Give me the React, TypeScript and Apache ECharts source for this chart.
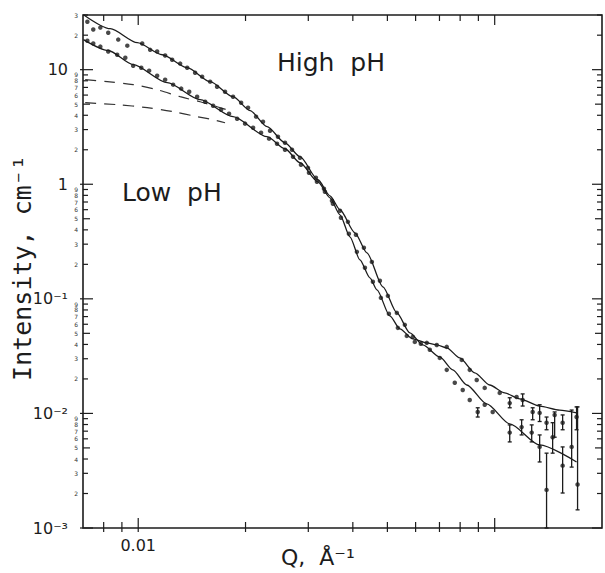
import React, { useEffect, useRef } from 'react';
import * as echarts from 'echarts';

const Q_MIN = 0.007;
const Q_MAX = 0.2;
const I_MIN = 0.001;
const I_MAX = 30;
const INK = '#1c1c1c';
const FONT = '"DejaVu Sans", sans-serif';

// Model fits (solid lines)
const highFitQ = [0.00702, 0.00835, 0.00994, 0.01168, 0.01372, 0.01591, 0.01845, 0.02059, 0.02298, 0.02581, 0.02843, 0.03193, 0.03451, 0.03681, 0.04054, 0.04381, 0.04857, 0.05316, 0.05781, 0.06285, 0.07015, 0.07627, 0.08348, 0.09498, 0.1102, 0.1337, 0.1697];
const highFitI = [30.2, 22.8, 17.2, 13.5, 10.4, 7.86, 5.81, 4.39, 3.18, 2.30, 1.74, 1.095, 0.793, 0.599, 0.377, 0.252, 0.1273, 0.0754, 0.0505, 0.0396, 0.0311, 0.0240, 0.0177, 0.0121, 0.00810, 0.00531, 0.00377];
const lowFitQ = [0.00702, 0.00824, 0.00968, 0.01206, 0.01492, 0.01845, 0.02298, 0.02581, 0.02843, 0.03193, 0.03451, 0.03681, 0.03926, 0.04187, 0.04466, 0.04673, 0.05081, 0.05420, 0.05893, 0.06450, 0.06878, 0.07337, 0.07980, 0.08790, 0.09683, 0.1067, 0.1175, 0.1337, 0.1521, 0.1697];
const lowFitI = [18.3, 14.7, 11.06, 7.70, 5.47, 3.89, 2.60, 2.04, 1.54, 1.051, 0.762, 0.541, 0.348, 0.219, 0.1526, 0.1198, 0.0710, 0.0547, 0.0447, 0.0413, 0.0396, 0.0373, 0.0305, 0.0226, 0.0177, 0.0151, 0.0134, 0.0116, 0.0107, 0.0101];

// Measured points
const highQ = [0.00720, 0.00748, 0.00783, 0.00824, 0.00879, 0.00932, 0.01026, 0.01080, 0.01130, 0.01190, 0.01245, 0.01311, 0.01372, 0.01444, 0.01511, 0.01591, 0.01664, 0.01752, 0.01845, 0.01944, 0.02033, 0.02141, 0.02239, 0.02343, 0.02466, 0.02581, 0.02700, 0.02843, 0.02994, 0.03151, 0.03319, 0.03495, 0.03681, 0.03875, 0.04081, 0.04296, 0.04523, 0.04764, 0.05016, 0.05316, 0.05597, 0.05893, 0.06205, 0.06576, 0.07015, 0.07337, 0.07727, 0.08135, 0.08511, 0.08962, 0.09376, 0.09872, 0.1102, 0.1190, 0.1270, 0.1337, 0.1398, 0.1454, 0.1551, 0.1644, 0.1708];
const highI = [26.2, 22.4, 23.3, 21.0, 18.3, 16.2, 16.9, 14.9, 14.4, 13.3, 12.2, 11.3, 10.4, 9.41, 8.69, 7.86, 7.10, 6.42, 5.81, 5.15, 4.66, 3.89, 3.51, 2.93, 2.60, 2.30, 2.00, 1.70, 1.39, 1.14, 0.913, 0.718, 0.587, 0.470, 0.362, 0.279, 0.210, 0.1437, 0.1062, 0.0754, 0.0593, 0.0466, 0.0405, 0.0359, 0.0305, 0.0240, 0.0185, 0.0160, 0.0131, 0.0103, 0.0119, 0.0103, 0.0068, 0.0076, 0.0068, 0.0051, 0.00215, 0.0062, 0.0035, 0.0051, 0.0024];
const lowQ = [0.00720, 0.00748, 0.00783, 0.00824, 0.00873, 0.00920, 0.00968, 0.01020, 0.01073, 0.01130, 0.01190, 0.01253, 0.01320, 0.01390, 0.01463, 0.01541, 0.01622, 0.01708, 0.01798, 0.01894, 0.01994, 0.02100, 0.02211, 0.02328, 0.02451, 0.02581, 0.02718, 0.02861, 0.03013, 0.03172, 0.03340, 0.03517, 0.03704, 0.03899, 0.04106, 0.04325, 0.04553, 0.04795, 0.05049, 0.05350, 0.05668, 0.05969, 0.06450, 0.06878, 0.07337, 0.08083, 0.08511, 0.08904, 0.09376, 0.1033, 0.1102, 0.1152, 0.1198, 0.1278, 0.1337, 0.1398, 0.1473, 0.1551, 0.1697];
const lowI = [17.9, 16.9, 15.9, 14.4, 13.5, 12.7, 10.8, 10.4, 9.80, 8.86, 8.18, 7.40, 6.83, 6.42, 5.81, 5.25, 4.85, 4.47, 4.13, 3.73, 3.38, 3.11, 2.82, 2.50, 2.26, 2.00, 1.74, 1.48, 1.26, 1.051, 0.860, 0.676, 0.510, 0.370, 0.257, 0.1865, 0.1408, 0.1020, 0.0740, 0.0558, 0.0475, 0.0421, 0.0413, 0.0396, 0.0381, 0.0293, 0.0240, 0.0196, 0.0167, 0.0151, 0.0123, 0.0139, 0.0131, 0.0103, 0.0101, 0.0083, 0.0097, 0.0083, 0.0093];

// Error bars
const highErrQ = [0.08962, 0.1102, 0.1190, 0.1270, 0.1337, 0.1398, 0.1454, 0.1551, 0.1644, 0.1708];
const highErrLo = [0.0093, 0.00564, 0.00649, 0.00564, 0.00377, 0.001, 0.0045, 0.00202, 0.0034, 0.00144];
const highErrHi = [0.0112, 0.00794, 0.0088, 0.00794, 0.00649, 0.0045, 0.0083, 0.0051, 0.0107, 0.0114];
const lowErrQ = [0.1102, 0.1198, 0.1278, 0.1337, 0.1398, 0.1473, 0.1551, 0.1697];
const lowErrLo = [0.0112, 0.0116, 0.0088, 0.0085, 0.0072, 0.0062, 0.0072, 0.0072];
const lowErrHi = [0.0137, 0.0148, 0.0112, 0.0119, 0.0093, 0.0103, 0.0097, 0.0114];

// Dashed component curves
const dash1Q = [0.00710, 0.00819, 0.00968, 0.01130, 0.01311, 0.01492, 0.01664, 0.01845];
const dash1I = [8.18, 7.86, 7.40, 6.69, 5.81, 5.25, 4.75, 4.30];
const dash2Q = [0.00710, 0.00873, 0.01060, 0.01253, 0.01463, 0.01622, 0.01752];
const dash2I = [5.15, 4.95, 4.66, 4.30, 3.89, 3.66, 3.44];

// Ticks and labels
const yMajorTicks = [0.001, 0.01, 0.1, 1, 10];
const yMinorTicks = [0.002, 0.003, 0.004, 0.005, 0.006, 0.007, 0.008, 0.009, 0.02, 0.03, 0.04, 0.05, 0.06, 0.07, 0.08, 0.09, 0.2, 0.3, 0.4, 0.5, 0.6, 0.7, 0.8, 0.9, 2, 3, 4, 5, 6, 7, 8, 9, 20, 30];
const yLabelValues = [10, 1, 0.1, 0.01, 0.001];
const yLabelTexts = ['10', '1', '10⁻¹', '10⁻²', '10⁻³'];
const xMajorTicks = [0.01, 0.1];
const xMinorTicks = [0.008, 0.009, 0.02, 0.03, 0.04, 0.05, 0.06, 0.07, 0.08, 0.09];
const xLabelValues = [0.01];
const xLabelTexts = ['0.01'];

const zip = (a: number[], b: number[]) => a.map((x, i) => [x, b[i]]);
const near = (a: number, b: number) => Math.abs(a - b) / b < 1e-6;

function leadDigit(v: number) {
  return Math.round(v / Math.pow(10, Math.floor(Math.log10(v) + 1e-9)));
}

function yTickItem(params: any, api: any) {
  const v = api.value(1);
  const major = api.value(2) === 1;
  const cs = params.coordSys;
  const y = api.coord([Q_MIN, v])[1];
  const d = leadDigit(v);
  const len = major ? 10 : d === 5 ? 7 : 5;
  const st = { stroke: INK, lineWidth: 1.2 };
  const children: any[] = [
    { type: 'line', shape: { x1: cs.x - (major ? 3 : 0), y1: y, x2: cs.x + len, y2: y }, style: st },
    { type: 'line', shape: { x1: cs.x + cs.width - len, y1: y, x2: cs.x + cs.width, y2: y }, style: st },
  ];
  if (!major) {
    children.push({
      type: 'text',
      x: cs.x - 5,
      y,
      style: { text: String(d), align: 'right', verticalAlign: 'middle', fontSize: 6, fontFamily: FONT, fill: '#333' },
    });
  }
  return { type: 'group', children };
}

function xTickItem(params: any, api: any) {
  const v = api.value(0);
  const major = api.value(2) === 1;
  const cs = params.coordSys;
  const x = api.coord([v, I_MIN])[0];
  const len = major ? 10 : 6;
  const st = { stroke: INK, lineWidth: 1.2 };
  const bottom = cs.y + cs.height;
  return {
    type: 'group',
    children: [
      { type: 'line', shape: { x1: x, y1: bottom + 4, x2: x, y2: bottom - len }, style: st },
      { type: 'line', shape: { x1: x, y1: cs.y, x2: x, y2: cs.y + len }, style: st },
    ],
  };
}

function errItem(params: any, api: any) {
  const q = api.value(0);
  const p1 = api.coord([q, api.value(1)]);
  const p2 = api.coord([q, api.value(2)]);
  const st = { stroke: INK, lineWidth: 1.3 };
  return {
    type: 'group',
    children: [
      { type: 'line', shape: { x1: p1[0], y1: p1[1], x2: p2[0], y2: p2[1] }, style: st },
      { type: 'line', shape: { x1: p1[0] - 2, y1: p1[1], x2: p1[0] + 2, y2: p1[1] }, style: st },
      { type: 'line', shape: { x1: p2[0] - 2, y1: p2[1], x2: p2[0] + 2, y2: p2[1] }, style: st },
    ],
  };
}

function buildOption() {
  const fitLine = (name: string, q: number[], i: number[]) => ({
    name,
    type: 'line',
    data: zip(q, i),
    showSymbol: false,
    smooth: 0.25,
    smoothMonotone: 'x',
    lineStyle: { color: INK, width: 1.3 },
    silent: true,
    z: 3,
  });
  const dashLine = (name: string, q: number[], i: number[]) => ({
    name,
    type: 'line',
    data: zip(q, i),
    showSymbol: false,
    smooth: 0.3,
    lineStyle: { color: '#333', width: 1.2, type: [11, 8] },
    silent: true,
    z: 2,
  });
  const dots = (name: string, q: number[], i: number[]) => ({
    name,
    type: 'scatter',
    data: zip(q, i),
    symbol: 'circle',
    symbolSize: 4.5,
    itemStyle: { color: INK },
    silent: true,
    z: 4,
  });
  const errs = (name: string, q: number[], lo: number[], hi: number[]) => ({
    name,
    type: 'custom',
    renderItem: errItem,
    data: q.map((x, k) => [x, lo[k], hi[k]]),
    encode: { x: 0, y: [1, 2] },
    clip: false,
    silent: true,
    z: 4,
  });

  return {
    animation: false,
    backgroundColor: '#ffffff',
    textStyle: { fontFamily: FONT },
    grid: { left: 83, right: 3, top: 15, bottom: 45, show: true, borderColor: INK, borderWidth: 1.6, backgroundColor: 'transparent' },
    xAxis: {
      type: 'log',
      logBase: 10,
      min: Q_MIN,
      max: Q_MAX,
      axisLine: { show: false },
      axisTick: { show: false },
      splitLine: { show: false },
      axisLabel: {
        margin: 9,
        fontSize: 16,
        color: INK,
        fontFamily: FONT,
        formatter: (v: number) => {
          const k = xLabelValues.findIndex((t) => near(v, t));
          return k >= 0 ? xLabelTexts[k] : '';
        },
      },
    },
    yAxis: {
      type: 'log',
      logBase: 10,
      min: I_MIN,
      max: I_MAX,
      axisLine: { show: false },
      axisTick: { show: false },
      splitLine: { show: false },
      axisLabel: {
        margin: 15,
        fontSize: 16,
        color: INK,
        fontFamily: FONT,
        formatter: (v: number) => {
          const k = yLabelValues.findIndex((t) => near(v, t));
          return k >= 0 ? yLabelTexts[k] : '';
        },
      },
    },
    graphic: [
      { type: 'text', left: 277, top: 50, silent: true, style: { text: 'High  pH', font: `25px ${FONT}`, fill: INK } },
      { type: 'text', left: 122, top: 180, silent: true, style: { text: 'Low  pH', font: `25px ${FONT}`, fill: INK } },
      {
        type: 'text',
        x: 22,
        y: 268,
        rotation: Math.PI / 2,
        silent: true,
        style: { text: 'Intensity, cm⁻¹', font: `25px "DejaVu Sans Mono", monospace`, fill: INK, align: 'center', verticalAlign: 'middle' },
      },
      { type: 'text', left: 281, top: 546, silent: true, style: { text: 'Q,  Å⁻¹', font: `22px ${FONT}`, fill: INK } },
    ],
    series: [
      {
        name: 'yTicks',
        type: 'custom',
        renderItem: yTickItem,
        data: [...yMajorTicks.map((v) => [Q_MIN, v, 1]), ...yMinorTicks.map((v) => [Q_MIN, v, 0])],
        encode: { x: 0, y: 1 },
        clip: false,
        silent: true,
        z: 6,
      },
      {
        name: 'xTicks',
        type: 'custom',
        renderItem: xTickItem,
        data: [...xMajorTicks.map((v) => [v, I_MIN, 1]), ...xMinorTicks.map((v) => [v, I_MIN, 0])],
        encode: { x: 0, y: 1 },
        clip: false,
        silent: true,
        z: 6,
      },
      dashLine('core (high pH)', dash1Q, dash1I),
      dashLine('core (low pH)', dash2Q, dash2I),
      fitLine('High pH fit', highFitQ, highFitI),
      fitLine('Low pH fit', lowFitQ, lowFitI),
      dots('High pH', highQ, highI),
      dots('Low pH', lowQ, lowI),
      errs('High pH error', highErrQ, highErrLo, highErrHi),
      errs('Low pH error', lowErrQ, lowErrLo, lowErrHi),
    ],
  };
}

export default function App() {
  const ref = useRef<HTMLDivElement>(null);
  useEffect(() => {
    if (!ref.current) return;
    const chart = echarts.init(ref.current, null, { renderer: 'svg' });
    chart.setOption(buildOption() as any);
    return () => chart.dispose();
  }, []);
  return (
    <div
      ref={ref}
      style={{ position: 'fixed', left: 0, top: 0, width: 605, height: 573, background: '#ffffff' }}
    />
  );
}
